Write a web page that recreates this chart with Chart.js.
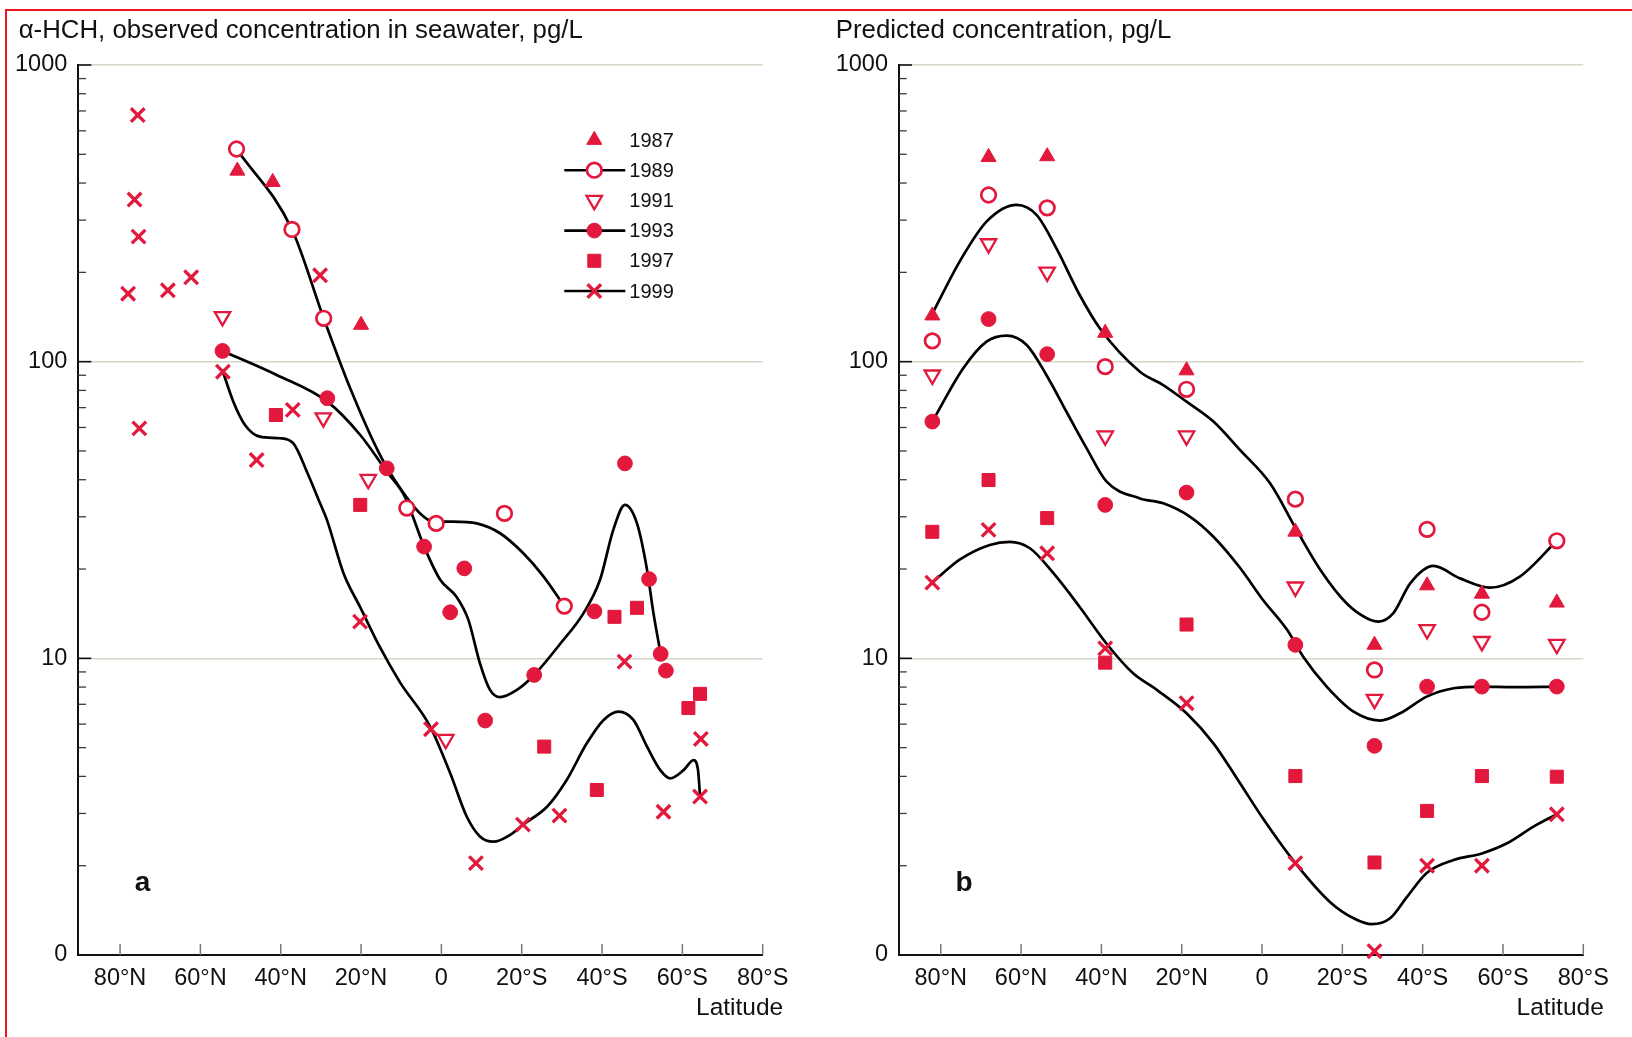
<!DOCTYPE html>
<html><head><meta charset="utf-8">
<script src="https://cdn.jsdelivr.net/npm/chart.js@4.4.1/dist/chart.umd.min.js"></script>
<style>
html,body{margin:0;padding:0;background:#fff;}
#wrap{position:relative;width:1632px;height:1037px;overflow:hidden;background:#fff;}
#frame{position:absolute;left:5px;top:9px;width:1700px;height:1100px;border-top:2px solid #f0141e;border-left:2px solid #f0141e;}
canvas{position:absolute;top:0;}
#c1{left:0;}#c2{left:816px;}
</style></head><body>
<div id="wrap"><div id="frame"></div>
<canvas id="c1" width="816" height="1037"></canvas>
<canvas id="c2" width="816" height="1037"></canvas>
</div>
<script>
// ---------- data ----------
const years = ['1987', '1989', '1991', '1993', '1997', '1999'];
const latTicks = [-80, -60, -40, -20, 0, 20, 40, 60, 80];
const latTickLabels = ['80°N', '60°N', '40°N', '20°N', '0', '20°S', '40°S', '60°S', '80°S'];
const concMajor = [1, 10, 100, 1000];
const concMajorLabels = ['0', '10', '100', '1000'];

// Panel a: observed (latitude: N negative, S positive)
const aLat1987 = [-50.8, -42.0, -20.0];
const a1987 = [440, 403, 133];
const aLat1989 = [-51.0, -37.2, -29.3, -8.6, -1.3, 15.7, 30.6];
const a1989 = [521, 279, 140, 32.1, 28.5, 30.8, 15.0];
const aLat1991 = [-54.5, -29.4, -18.2, 1.1];
const a1991 = [142, 64.7, 40.1, 5.33];
const aLat1993 = [-54.5, -28.4, -13.6, -4.3, 2.2, 5.7, 10.9, 23.1, 38.1, 45.7, 51.7, 54.6, 55.9];
const a1993 = [108.7, 75.3, 43.7, 23.8, 14.3, 20.1, 6.17, 8.79, 14.4, 45.4, 18.5, 10.35, 9.09];
const aLat1997 = [-41.2, -20.2, 25.6, 38.7, 43.1, 48.7, 61.5, 64.4];
const a1997 = [66.1, 32.9, 5.04, 3.6, 13.8, 14.8, 6.8, 7.59];
const aLat1999 = [-75.6, -76.4, -75.4, -78.0, -68.1, -62.3, -30.2, -54.4, -37.0, -75.2, -46.0, -20.25, -2.6, 8.6, 20.3, 29.4, 45.6, 55.3, 64.6, 64.4];
const a1999 = [678, 352, 264, 169.5, 174, 192.5, 195.5, 92.5, 68.8, 59.6, 46.6, 13.3, 5.77, 2.04, 2.75, 2.95, 9.75, 3.04, 5.35, 3.42];

// Panel a: fitted curves
const aFitLat1989 = [-51.0, -37.2, -29.3, -22.7, -15.3, -10.3, -5.3, -2.0, 3.0, 8.8, 14.6, 20.4, 25.4, 30.6];
const aFit1989 = [521, 279, 140, 81.3, 48.5, 37.5, 30.8, 28.9, 28.9, 28.5, 26.4, 22.6, 18.9, 15.0];
const aFitLat1993 = [-54.5, -41.0, -28.4, -20.2, -13.6, -9.1, -4.3, -0.3, 3.8, 6.7, 9.6, 12.1, 14.6, 18.8, 23.1, 29.6, 35.4, 39.5, 42.8, 45.7, 48.7, 51.2, 52.8, 54.6];
const aFit1993 = [108.7, 90.2, 73.3, 56.6, 42.6, 35.1, 23.8, 18.4, 16.1, 13.5, 9.62, 7.83, 7.4, 7.83, 8.79, 11.2, 14.2, 18.4, 27.1, 32.9, 28.5, 19.9, 14.2, 10.35];
const aFitLat1999 = [-54.4, -51.8, -48.9, -45.2, -40.2, -36.9, -33.3, -30.2, -28.5, -24.4, -20.25, -15.3, -10.3, -2.8, 2.2, 6.3, 9.6, 13.0, 17.1, 20.3, 26.3, 31.2, 36.2, 40.4, 44.1, 47.8, 51.2, 54.5, 57.0, 60.3, 62.8, 63.9, 64.4];
const aFit1999 = [92.5, 73.3, 61.2, 55.9, 55.2, 53.1, 42.0, 33.3, 29.3, 19.4, 14.9, 10.9, 8.3, 5.89, 4.1, 2.93, 2.51, 2.41, 2.54, 2.75, 3.16, 3.89, 5.17, 6.2, 6.61, 6.2, 5.04, 4.2, 3.94, 4.2, 4.54, 4.2, 3.42];

// Panel b: predicted, at model stations
const bLat = [-82.1, -68.1, -53.5, -39.05, -18.8, 8.3, 28.0, 41.1, 54.75, 73.4];
const b1987 = [143, 489, 492, 125, 93.4, 26.7, 11.1, 17.6, 16.5, 15.4];
const b1989 = [117.5, 364.6, 330, 96.2, 80.7, 34.4, 9.14, 27.2, 14.3, 24.9];
const b1991 = [90.2, 249.8, 200.5, 56.2, 56.2, 17.4, 7.28, 12.5, 11.4, 11.15];
const b1993 = [62.8, 139.2, 106, 32.9, 36.2, 11.1, 5.07, 8.03, 8.03, 8.03];
const b1997 = [26.7, 39.9, 29.7, 9.67, 13.0, 4.01, 2.05, 3.06, 4.01, 3.99];
const b1999 = [18.0, 27.1, 22.6, 10.8, 7.06, 2.04, 1.03, 2.0, 2.0, 2.98];

// Panel b: fitted curves
const bFitLat1989 = [-82.1, -75.3, -68.6, -61.1, -56.1, -51.2, -45.4, -40.4, -30.4, -24.6, -18.8, -12.1, -5.5, 2.0, 8.6, 14.5, 21.1, 26.1, 29.0, 32.7, 36.9, 42.7, 49.3, 56.8, 64.3, 73.4];
const bFit1989 = [145, 217.4, 296.5, 337.6, 312, 241, 167.8, 129.6, 92.5, 83.4, 73.3, 62.8, 50.4, 38.9, 27.1, 19.9, 15.3, 13.65, 13.3, 14.2, 17.9, 20.5, 18.6, 17.3, 18.9, 24.9];
const bFitLat1993 = [-82.1, -74.4, -68.6, -63.6, -58.6, -53.7, -48.7, -43.7, -38.7, -30.4, -24.6, -17.9, -12.1, -5.5, 0.3, 6.2, 10.3, 16.1, 22.8, 29.4, 34.4, 41.0, 47.7, 54.75, 62.6, 73.4];
const bFit1993 = [62.8, 95.0, 116.8, 122.4, 113.8, 90.2, 67.8, 51.1, 39.4, 34.6, 33.3, 30.0, 25.7, 20.2, 15.7, 12.5, 10.1, 8.03, 6.61, 6.17, 6.53, 7.43, 7.93, 8.03, 8.0, 8.03];
const bFitLat1999 = [-82.1, -75.3, -67.8, -62.8, -57.8, -52.0, -45.4, -38.7, -32.1, -26.2, -18.8, -12.1, -6.0, 0.5, 8.3, 16.9, 22.8, 27.3, 31.9, 36.1, 41.0, 47.7, 54.75, 61.0, 67.6, 73.4];
const bFit1999 = [18.0, 21.5, 24.1, 24.7, 23.5, 19.4, 14.9, 11.2, 8.9, 7.83, 6.53, 5.17, 3.89, 2.85, 2.04, 1.51, 1.33, 1.27, 1.33, 1.57, 1.89, 2.09, 2.2, 2.38, 2.71, 2.98];

// ---------- styling ----------
const FONT = "'Liberation Sans', Arial, Helvetica, sans-serif";
const RED = '#e2183c';
const markerStyles = {
  '1987': {pointStyle: 'triangle', radius: 8.7, rotation: 0, bg: RED, bw: 1},
  '1989': {pointStyle: 'circle', radius: 7.3, rotation: 0, bg: '#ffffff', bw: 2.7},
  '1991': {pointStyle: 'triangle', radius: 8.9, rotation: 180, bg: '#ffffff', bw: 2.3},
  '1993': {pointStyle: 'circle', radius: 7.4, rotation: 0, bg: RED, bw: 1},
  '1997': {pointStyle: 'rect', radius: 9.2, rotation: 0, bg: RED, bw: 1},
  '1999': {pointStyle: 'crossRot', radius: 9.6, rotation: 0, bg: RED, bw: 3.3}
};
const legendHasLine = {'1987': false, '1989': true, '1991': false, '1993': true, '1997': false, '1999': true};

function toPts(lats, vals) { return lats.map((x, i) => ({x: x, y: vals[i]})); }
function markerDataset(year, lats, vals) {
  const m = markerStyles[year];
  return {label: year, data: toPts(lats, vals), showLine: false,
    pointStyle: m.pointStyle, pointRadius: m.radius, pointHoverRadius: m.radius, pointRotation: m.rotation,
    pointBackgroundColor: m.bg, pointBorderColor: RED, pointBorderWidth: m.bw, pointHoverBorderWidth: m.bw,
    clip: false, order: 1};
}
function fitDataset(label, lats, vals) {
  return {label: label, data: toPts(lats, vals), showLine: true, borderColor: '#000', borderWidth: 2.7,
    pointRadius: 0, pointHoverRadius: 0, cubicInterpolationMode: 'monotone', fill: false, clip: false, order: 5};
}

function manualPoint(ctx, m, x, y) {
  const r = m.radius;
  ctx.beginPath();
  if (m.pointStyle === 'circle') { ctx.arc(x, y, r, 0, Math.PI * 2); }
  else if (m.pointStyle === 'triangle') {
    let a = m.rotation * Math.PI / 180;
    for (let k = 0; k < 3; k++) { const px = x + Math.sin(a) * r, py = y - Math.cos(a) * r; if (k) ctx.lineTo(px, py); else ctx.moveTo(px, py); a += 2 * Math.PI / 3; }
    ctx.closePath();
  } else if (m.pointStyle === 'rect') { const s = Math.SQRT1_2 * r; ctx.rect(x - s, y - s, 2 * s, 2 * s); }
  else if (m.pointStyle === 'crossRot') { const s = Math.SQRT1_2 * r; ctx.moveTo(x - s, y - s); ctx.lineTo(x + s, y + s); ctx.moveTo(x - s, y + s); ctx.lineTo(x + s, y - s); }
  if (m.pointStyle !== 'crossRot') ctx.fill();
  ctx.stroke();
}
function drawMarker(ctx, year, x, y) {
  const m = markerStyles[year];
  ctx.save();
  ctx.fillStyle = m.bg; ctx.strokeStyle = RED; ctx.lineWidth = m.bw;
  if (Chart.helpers && Chart.helpers.drawPoint) {
    Chart.helpers.drawPoint(ctx, {pointStyle: m.pointStyle, rotation: m.rotation, radius: m.radius, borderWidth: m.bw}, x, y);
  } else { manualPoint(ctx, m, x, y); }
  ctx.restore();
}

function decoPlugin(cfg) {
  return {
    id: 'deco',
    beforeDatasetsDraw(chart) {
      const ctx = chart.ctx, xs = chart.scales.x, ys = chart.scales.y, area = chart.chartArea;
      ctx.save();
      ys.ticks.forEach(t => {
        const v = t.value; if (v <= 1) return;
        const py = ys.getPixelForValue(v);
        const major = concMajor.includes(v);
        ctx.strokeStyle = major ? '#111' : '#3a3a3a';
        ctx.lineWidth = major ? 1.6 : 1.3;
        ctx.beginPath(); ctx.moveTo(area.left, py); ctx.lineTo(area.left + (major ? 13 : 7.7), py); ctx.stroke();
      });
      xs.ticks.forEach(t => {
        const px = xs.getPixelForValue(t.value);
        ctx.strokeStyle = '#777'; ctx.lineWidth = 1.5;
        ctx.beginPath(); ctx.moveTo(px, area.bottom); ctx.lineTo(px, area.bottom - 11); ctx.stroke();
      });
      ctx.restore();
    },
    afterDraw(chart) {
      const ctx = chart.ctx, area = chart.chartArea;
      ctx.save();
      ctx.fillStyle = '#111';
      ctx.textBaseline = 'alphabetic';
      ctx.textAlign = 'left';
      ctx.font = '25.8px ' + FONT;
      ctx.fillText(cfg.title, cfg.titleX, 37.5);
      ctx.font = '24.5px ' + FONT;
      ctx.textAlign = 'right';
      ctx.fillText('Latitude', area.right + 20.5, 1015);
      ctx.textAlign = 'left';
      ctx.font = 'bold 28px ' + FONT;
      ctx.fillText(cfg.letter, area.left + 56.5, 890.5);
      if (cfg.legend) {
        const lx = area.left + 516, y0 = 140, step = 30.2;
        years.forEach((yr, i) => {
          const yy = y0 + i * step;
          if (legendHasLine[yr]) {
            ctx.strokeStyle = '#000'; ctx.lineWidth = 2.6;
            ctx.beginPath(); ctx.moveTo(lx - 30, yy); ctx.lineTo(lx + 31, yy); ctx.stroke();
          }
          drawMarker(ctx, yr, lx, yy);
          ctx.fillStyle = '#111';
          ctx.font = '20px ' + FONT;
          ctx.textAlign = 'left';
          ctx.textBaseline = 'middle';
          ctx.fillText(yr, lx + 35, yy + 1);
        });
      }
      ctx.restore();
    }
  };
}

function makeOptions(yWidth, padRight) {
  return {
    responsive: false, animation: false, devicePixelRatio: 1, events: [],
    layout: {padding: {left: 0, top: 65, right: padRight, bottom: 0}},
    plugins: {legend: {display: false}, tooltip: {enabled: false}, title: {display: false}},
    scales: {
      x: {type: 'linear', min: -90.4, max: 80,
        afterBuildTicks: s => { s.ticks = latTicks.map(v => ({value: v})); },
        afterFit: s => { s.height = 82; },
        grid: {display: false, drawTicks: false},
        border: {display: true, color: '#111', width: 2},
        ticks: {autoSkip: false, maxRotation: 0, minRotation: 0, padding: 9, color: '#111',
          font: {family: FONT, size: 23.5},
          callback: v => { const i = latTicks.indexOf(v); return i >= 0 ? latTickLabels[i] : ''; }}
      },
      y: {type: 'logarithmic', min: 1, max: 1000,
        afterBuildTicks: s => {
          const arr = [];
          [1, 10, 100].forEach(d => { for (let k = 1; k <= 9; k++) arr.push(d * k); });
          arr.push(1000);
          s.ticks = arr.map(v => ({value: v, major: concMajor.includes(v)}));
        },
        afterFit: s => { s.width = yWidth; },
        grid: {drawTicks: false, lineWidth: 1.5,
          color: c => (c.tick && (c.tick.value === 10 || c.tick.value === 100 || c.tick.value === 1000)) ? '#d6d6c8' : 'rgba(0,0,0,0)'},
        border: {display: true, color: '#111', width: 2},
        ticks: {autoSkip: false, padding: 11, color: '#111', font: {family: FONT, size: 23.5},
          callback: v => { const i = concMajor.indexOf(v); return i >= 0 ? concMajorLabels[i] : ''; }}
      }
    }
  };
}

new Chart(document.getElementById('c1'), {
  type: 'scatter',
  data: {datasets: [
    markerDataset('1987', aLat1987, a1987),
    markerDataset('1989', aLat1989, a1989),
    markerDataset('1991', aLat1991, a1991),
    markerDataset('1993', aLat1993, a1993),
    markerDataset('1997', aLat1997, a1997),
    markerDataset('1999', aLat1999, a1999),
    fitDataset('1989 curve', aFitLat1989, aFit1989),
    fitDataset('1993 curve', aFitLat1993, aFit1993),
    fitDataset('1999 curve', aFitLat1999, aFit1999)
  ]},
  options: makeOptions(78.3, 53.3),
  plugins: [decoPlugin({title: 'α-HCH, observed concentration in seawater, pg/L', titleX: 18.7, letter: 'a', legend: true})]
});

new Chart(document.getElementById('c2'), {
  type: 'scatter',
  data: {datasets: [
    markerDataset('1987', bLat, b1987),
    markerDataset('1989', bLat, b1989),
    markerDataset('1991', bLat, b1991),
    markerDataset('1993', bLat, b1993),
    markerDataset('1997', bLat, b1997),
    markerDataset('1999', bLat, b1999),
    fitDataset('1989 curve', bFitLat1989, bFit1989),
    fitDataset('1993 curve', bFitLat1993, bFit1993),
    fitDataset('1999 curve', bFitLat1999, bFit1999)
  ]},
  options: makeOptions(83, 48.7),
  plugins: [decoPlugin({title: 'Predicted concentration, pg/L', titleX: 19.8, letter: 'b', legend: false})]
});
</script>
</body></html>
